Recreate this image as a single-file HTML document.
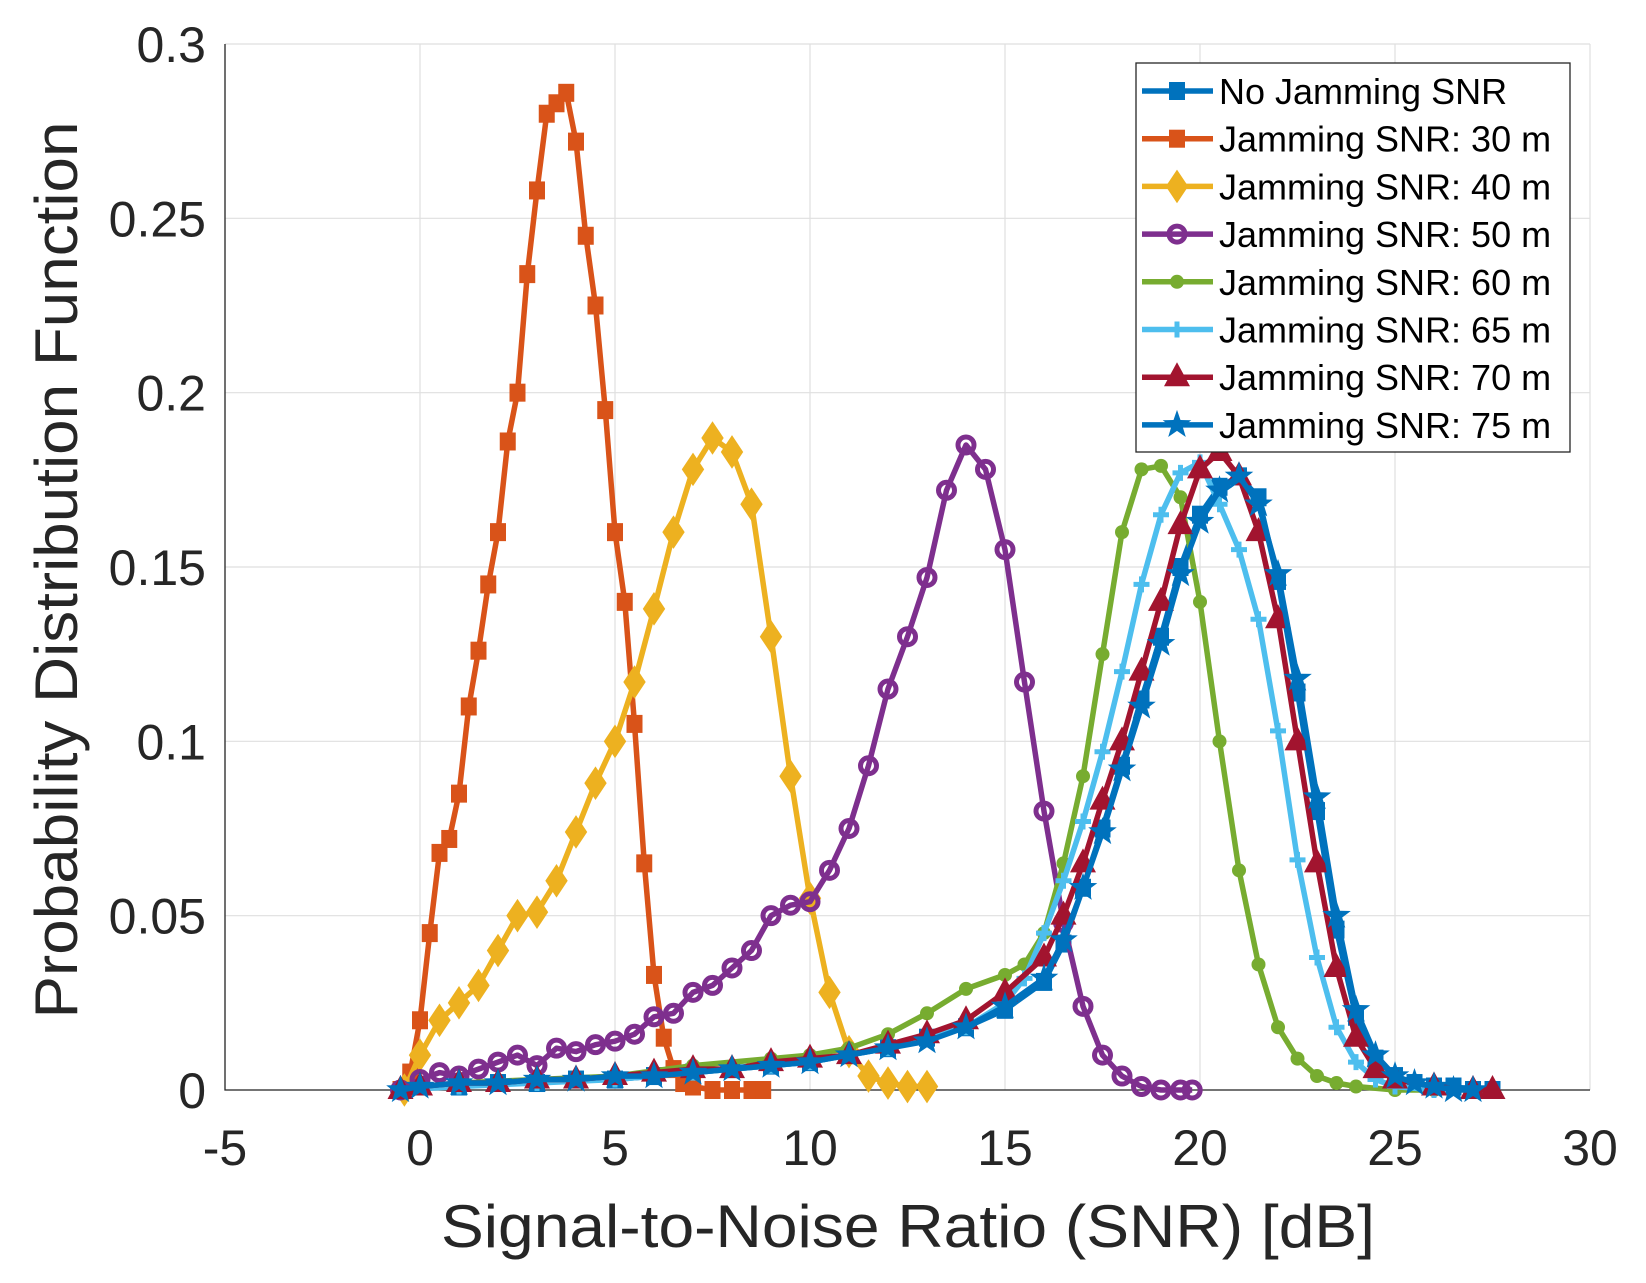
<!DOCTYPE html>
<html><head><meta charset="utf-8"><style>
html,body{margin:0;padding:0;background:#fff;}
svg{display:block;font-family:"Liberation Sans",Arial,sans-serif;}
</style></head><body>
<svg id="chart" width="1646" height="1283" viewBox="0 0 1646 1283" xmlns="http://www.w3.org/2000/svg">
<rect x="0" y="0" width="1646" height="1283" fill="#fff"/>
<g id="grid"></g>
<g id="axes"></g>
<g id="series"></g>
<g id="legend"></g>
<text x="908" y="1247" font-size="60" text-anchor="middle" fill="#262626" textLength="934" lengthAdjust="spacingAndGlyphs">Signal-to-Noise Ratio (SNR) [dB]</text>
<text transform="translate(77,570) rotate(-90)" font-size="60" text-anchor="middle" fill="#262626" textLength="897" lengthAdjust="spacingAndGlyphs">Probability Distribution Function</text>
</svg>
<script>
const xTicks = [-5,0,5,10,15,20,25,30];
const yTicks = [0,0.05,0.1,0.15,0.2,0.25,0.3];
const yTickLabels = ["0","0.05","0.1","0.15","0.2","0.25","0.3"];
const seriesNames = ["No Jamming SNR","Jamming SNR: 30 m","Jamming SNR: 40 m","Jamming SNR: 50 m","Jamming SNR: 60 m","Jamming SNR: 65 m","Jamming SNR: 70 m","Jamming SNR: 75 m"];

const xNoJam = [-0.5,0,1,2,3,4,5,6,7,8,9,10,11,12,13,14,15,16,16.5,17,17.5,18,18.5,19,19.5,20,20.5,21,21.5,22,22.5,23,23.5,24,24.5,25,25.5,26,26.5,27,27.5];
const yNoJam = [0,0.001,0.001,0.002,0.002,0.003,0.003,0.004,0.005,0.006,0.007,0.008,0.01,0.012,0.015,0.018,0.023,0.031,0.042,0.058,0.075,0.093,0.112,0.13,0.15,0.165,0.173,0.176,0.17,0.146,0.114,0.08,0.046,0.021,0.009,0.004,0.002,0.001,0.001,0,0];

const x30 = [-0.5,-0.25,0,0.25,0.5,0.75,1,1.25,1.5,1.75,2,2.25,2.5,2.75,3,3.25,3.5,3.75,4,4.25,4.5,4.75,5,5.25,5.5,5.75,6,6.25,6.5,6.75,7,7.5,8,8.5,8.8];
const y30 = [0,0.005,0.02,0.045,0.068,0.072,0.085,0.11,0.126,0.145,0.16,0.186,0.2,0.234,0.258,0.28,0.283,0.286,0.272,0.245,0.225,0.195,0.16,0.14,0.105,0.065,0.033,0.015,0.006,0.002,0.001,0,0,0,0];

const x40 = [-0.4,0,0.5,1,1.5,2,2.5,3,3.5,4,4.5,5,5.5,6,6.5,7,7.5,8,8.5,9,9.5,10,10.5,11,11.5,12,12.5,13];
const y40 = [0,0.01,0.02,0.025,0.03,0.04,0.05,0.051,0.06,0.074,0.088,0.1,0.117,0.138,0.16,0.178,0.187,0.183,0.168,0.13,0.09,0.055,0.028,0.011,0.004,0.002,0.001,0.001];

const x50 = [-0.5,0,0.5,1,1.5,2,2.5,3,3.5,4,4.5,5,5.5,6,6.5,7,7.5,8,8.5,9,9.5,10,10.5,11,11.5,12,12.5,13,13.5,14,14.5,15,15.5,16,16.5,17,17.5,18,18.5,19,19.5,19.8];
const y50 = [0,0.003,0.005,0.004,0.006,0.008,0.01,0.007,0.012,0.011,0.013,0.014,0.016,0.021,0.022,0.028,0.03,0.035,0.04,0.05,0.053,0.054,0.063,0.075,0.093,0.115,0.13,0.147,0.172,0.185,0.178,0.155,0.117,0.08,0.048,0.024,0.01,0.004,0.001,0,0,0];

const x60 = [-0.5,1,3,5,7,9,10,11,12,13,14,15,15.5,16,16.5,17,17.5,18,18.5,19,19.5,20,20.5,21,21.5,22,22.5,23,23.5,24,25,26];
const y60 = [0,0.002,0.003,0.004,0.007,0.009,0.01,0.012,0.016,0.022,0.029,0.033,0.036,0.045,0.065,0.09,0.125,0.16,0.178,0.179,0.17,0.14,0.1,0.063,0.036,0.018,0.009,0.004,0.002,0.001,0,0];

const x65 = [-0.5,1,3,5,7,9,10,11,12,13,14,15,15.5,16,16.5,17,17.5,18,18.5,19,19.5,20,20.5,21,21.5,22,22.5,23,23.5,24,24.5,25,26];
const y65 = [0,0.001,0.002,0.003,0.005,0.007,0.008,0.01,0.012,0.015,0.018,0.025,0.032,0.045,0.06,0.077,0.097,0.12,0.145,0.165,0.177,0.18,0.168,0.155,0.135,0.103,0.066,0.038,0.018,0.008,0.003,0.001,0];

const x70 = [-0.5,0,1,2,3,4,5,6,7,8,9,10,11,12,13,14,15,16,16.5,17,17.5,18,18.5,19,19.5,20,20.5,21,21.5,22,22.5,23,23.5,24,24.5,25,26,27,27.5];
const y70 = [0,0.001,0.002,0.002,0.003,0.003,0.004,0.005,0.006,0.006,0.008,0.009,0.01,0.013,0.016,0.02,0.028,0.038,0.05,0.065,0.083,0.1,0.12,0.14,0.162,0.178,0.183,0.176,0.16,0.135,0.1,0.065,0.035,0.015,0.006,0.003,0.001,0,0];

const x75 = [-0.5,0,1,2,3,4,5,6,7,8,9,10,11,12,13,14,15,16,16.5,17,17.5,18,18.5,19,19.5,20,20.5,21,21.5,22,22.5,23,23.5,24,24.5,25,25.5,26,26.5,27];
const y75 = [0,0.001,0.002,0.002,0.003,0.003,0.004,0.004,0.005,0.006,0.007,0.008,0.01,0.012,0.014,0.018,0.024,0.032,0.043,0.058,0.074,0.092,0.11,0.128,0.148,0.163,0.172,0.176,0.168,0.148,0.118,0.084,0.05,0.023,0.01,0.004,0.002,0.001,0,0];

const NS='http://www.w3.org/2000/svg';
const L=225,R=1590,T=44,B=1090, XMIN=-5,XMAX=30,YMIN=0,YMAX=0.3;
function sx(v){return L+(v-XMIN)/(XMAX-XMIN)*(R-L);}
function sy(v){return B-(v-YMIN)/(YMAX-YMIN)*(B-T);}
function mk(tag,attrs,parent){const e=document.createElementNS(NS,tag);for(const k in attrs)e.setAttribute(k,attrs[k]);parent.appendChild(e);return e;}
const grid=document.getElementById('grid'),axes=document.getElementById('axes'),ser=document.getElementById('series'),leg=document.getElementById('legend');

xTicks.forEach(t=>{
  const gl=mk('line',{x1:sx(t),x2:sx(t),y1:T,y2:B,stroke:'#dfdfdf','stroke-width':1.2},grid);
  
  
  const tl=mk('text',{x:sx(t),y:1165,'font-size':50,'text-anchor':'middle',fill:'#262626'},axes);
  tl.textContent=String(t);
  
  
});
yTicks.forEach((t,i)=>{
  const gl=mk('line',{x1:L,x2:R,y1:sy(t),y2:sy(t),stroke:'#dfdfdf','stroke-width':1.2},grid);
  
  
  const tl=mk('text',{x:206,y:sy(t)+18,'font-size':50,'text-anchor':'end',fill:'#262626'},axes);
  tl.textContent=yTickLabels[i];
  
  
});
const ax=mk('path',{d:`M${L},${T} V${B} H${R}`,fill:'none',stroke:'#262626','stroke-width':1.3},axes);



const colors=['#0072BD','#D95319','#EDB120','#7E2F8E','#77AC30','#4DBEEE','#A2142F','#0072BD'];
const markers=['square','square','diamond','circle','dot','plus','triangle','star'];
const xs=[xNoJam,x30,x40,x50,x60,x65,x70,x75];
const ys=[yNoJam,y30,y40,y50,y60,y65,y70,y75];

function marker(type,cx,cy,c,parent){
  let e;
  if(type==='square') e=mk('rect',{x:cx-8,y:cy-9,width:16,height:18,fill:c},parent);
  else if(type==='diamond') e=mk('polygon',{points:`${cx},${cy-15} ${cx+10},${cy} ${cx},${cy+15} ${cx-10},${cy}`,fill:c,stroke:c,'stroke-width':2},parent);
  else if(type==='circle') e=mk('circle',{cx:cx,cy:cy,r:8,fill:'none',stroke:c,'stroke-width':5},parent);
  else if(type==='dot') e=mk('circle',{cx:cx,cy:cy,r:7,fill:c},parent);
  else if(type==='plus') e=mk('path',{d:`M${cx-8},${cy}H${cx+8}M${cx},${cy-8}V${cy+8}`,stroke:c,'stroke-width':5},parent);
  else if(type==='triangle') e=mk('polygon',{points:`${cx},${cy-15} ${cx+13},${cy+9} ${cx-13},${cy+9}`,fill:c},parent);
  else {
    let p=[];for(let k=0;k<10;k++){const r=k%2?6:15,a=-Math.PI/2+k*Math.PI/5;p.push((cx+r*Math.cos(a)).toFixed(1)+','+(cy+r*Math.sin(a)).toFixed(1));}
    e=mk('polygon',{points:p.join(' '),fill:c},parent);
  }
  return e;
}

for(let s=0;s<8;s++){
  const g=mk('g',{},ser);
  
  
  const d=xs[s].map((v,i)=>(i?'L':'M')+sx(v).toFixed(1)+','+sy(ys[s][i]).toFixed(1)).join(' ');
  const ln=mk('path',{d:d,fill:'none',stroke:colors[s],'stroke-width':5.5,'stroke-linejoin':'round'},g);
  
  
  xs[s].forEach((v,i)=>{
    const m=marker(markers[s],sx(v),sy(ys[s][i]),colors[s],g);
    
    
  });
}

const box=mk('rect',{x:1136,y:63,width:434,height:389,fill:'#fff',stroke:'#262626','stroke-width':1.3},leg);


for(let s=0;s<8;s++){
  const cy=91+s*47.7;
  const g=mk('g',{},leg);
  
  
  mk('line',{x1:1142,x2:1213,y1:cy,y2:cy,stroke:colors[s],'stroke-width':5.5},g);
  marker(markers[s],1177,cy,colors[s],g);
  const t=mk('text',{x:1219,y:cy+13,'font-size':36,fill:'#000'},g);
  t.textContent=seriesNames[s];
}
</script>
</body></html>
